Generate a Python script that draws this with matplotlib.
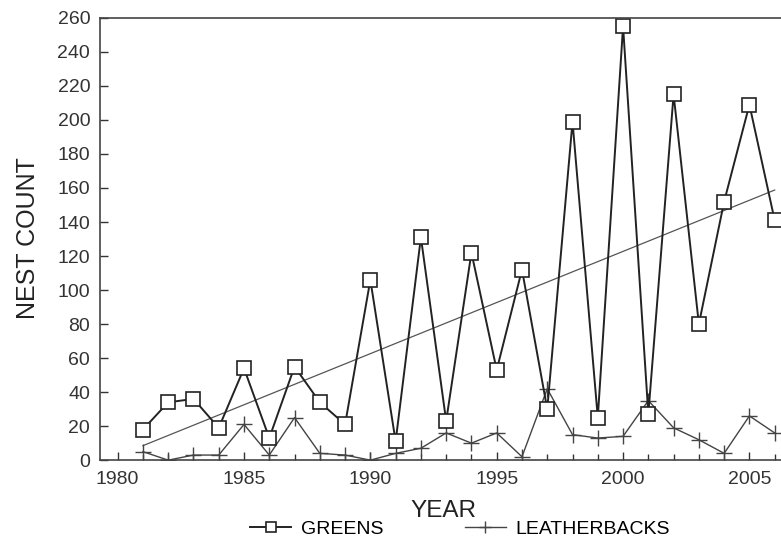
import matplotlib.pyplot as plt
import numpy as np

plt.rcParams['font.family'] = ['Liberation Sans', 'DejaVu Sans']

## Data
years = list(range(1981, 2007))
greens = [18, 34, 36, 19, 54, 13, 55, 34, 21, 106, 11, 131, 23, 122, 53, 112,
          30, 199, 25, 255, 27, 215, 80, 152, 209, 141]
leatherbacks = [5, 0, 3, 3, 21, 3, 25, 4, 3, 0, 4, 7, 16, 10, 16, 2,
                42, 15, 13, 14, 35, 19, 12, 4, 26, 16]

## Linear trend of the greens
coef = np.polyfit(years, greens, 1)
trend_x = np.array([years[0], years[-1]])
trend_y = np.polyval(coef, trend_x)

fig = plt.figure(figsize=(7.81, 5.42), dpi=100)
ax = fig.add_axes([0.128, 0.151, 0.872, 0.816])

ax.plot(trend_x, trend_y, color='#555555', lw=0.9)
ax.plot(years, leatherbacks, '-+', color='#444444', lw=1.0, ms=11, mew=1.0,
        label='LEATHERBACKS')
ax.plot(years, greens, '-s', color='#222222', lw=1.4, ms=10,
        mfc='white', mec='#222222', mew=1.2, label='GREENS')

ax.set_xlim(1979.3, 2006.25)
ax.set_ylim(0, 260)
ax.set_yticks(np.arange(0, 261, 20))
ax.set_xticks([1980, 1985, 1990, 1995, 2000, 2005])
ax.set_xticks(range(1980, 2007), minor=True)

ax.tick_params(direction='in', labelsize=14, colors='#333333', length=6, width=1)
ax.tick_params(axis='y', pad=7)
ax.tick_params(axis='x', pad=8)
ax.tick_params(which='minor', direction='in', length=4, width=1, colors='#333333')
ax.spines['right'].set_visible(False)
for s in ['left', 'bottom', 'top']:
    ax.spines[s].set_color('#444444')
    ax.spines[s].set_linewidth(1.2)

ax.set_xlabel('YEAR', fontsize=17.5, color='#222222', va='center')
ax.xaxis.set_label_coords(0.504, -0.115)
ax.set_ylabel('NEST COUNT', fontsize=18, color='#222222', va='center')
ax.yaxis.set_label_coords(-0.106, 0.502)

handles, labels = ax.get_legend_handles_labels()
fig.legend(handles[::-1], labels[::-1], loc='center', ncol=2,
           bbox_to_anchor=(0.589, 0.024), frameon=False, fontsize=14,
           handlelength=2.1, columnspacing=4.2, handletextpad=0.5,
           markerscale=0.75, borderpad=0, borderaxespad=0)

fig.savefig('out.png', dpi=100)
